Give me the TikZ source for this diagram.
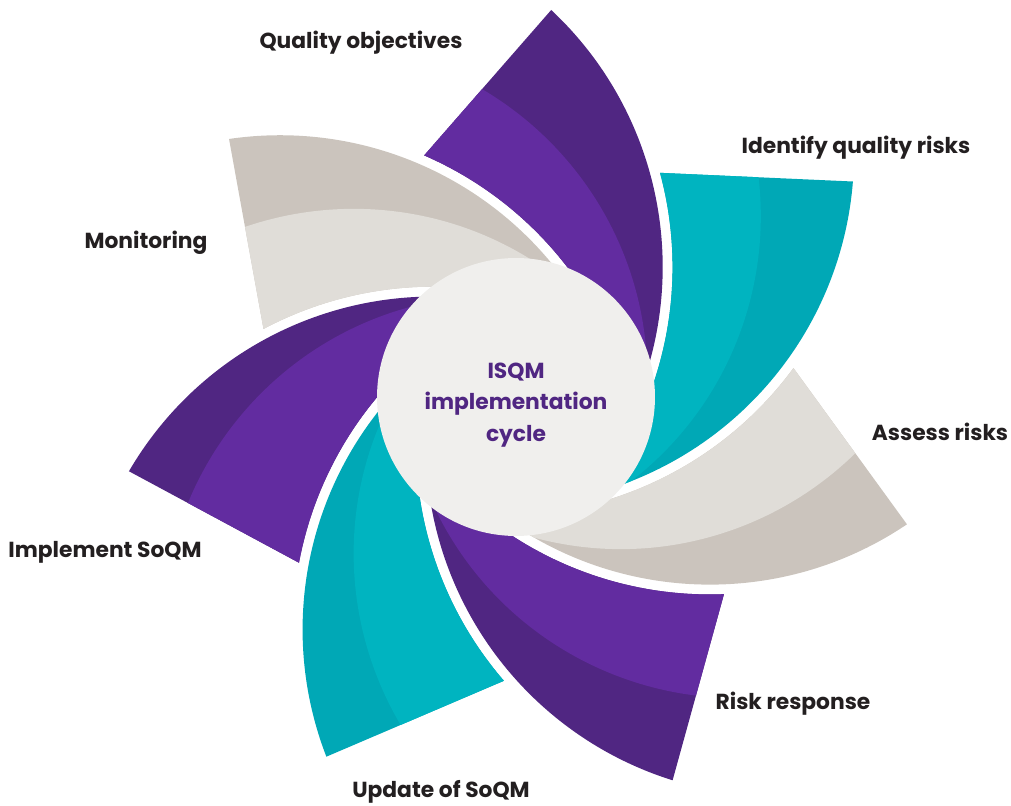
\documentclass[tikz,border=0pt]{standalone}
\usepackage{fontspec}
\setmainfont{Poppins}
\usepackage{tikz}
\usetikzlibrary{calc}

\definecolor{violetdark}{RGB}{80, 38, 130}
\definecolor{violetlight}{RGB}{98, 44, 160}
\definecolor{tealdark}{RGB}{0, 168, 182}
\definecolor{teallight}{RGB}{0, 180, 192}
\definecolor{stonedark}{RGB}{203, 196, 189}
\definecolor{stonelight}{RGB}{224, 221, 216}
\definecolor{hubfill}{RGB}{240, 239, 237}
\definecolor{ink}{RGB}{35, 31, 32}

\tikzstyle{phase} = [text=ink, inner sep=0pt, anchor=base, font=\bfseries\fontsize{12.4}{15}\selectfont]
\tikzstyle{hub} = [circle, fill=hubfill, inner sep=0pt, minimum size=5.56cm]
\tikzstyle{hubtitle} = [text=violetdark, inner sep=0pt, align=center, font=\bfseries\fontsize{12.4}{17.9}\selectfont]

\begin{document}
\begin{tikzpicture}[x=0.02cm, y=0.02cm]
\useasboundingbox (0,0) rectangle (1011,805);

% shutter blades =============================
% each blade: convex arc, concave arc (next blade's edge pushed out), straight rim
% \tw turns the light/dark split about the point where it meets the hub
\foreach \k/\outer/\inner/\tw in {0/violetdark/violetlight/0.6, 1/tealdark/teallight/-1.5,
    2/stonedark/stonelight/-2.8, 3/violetdark/violetlight/-2.8, 4/tealdark/teallight/-4.2,
    5/violetdark/violetlight/-6.9, 6/stonedark/stonelight/-2.5}{
  \begin{scope}[shift={(524,396)}, rotate=-\k*360/7]
    \clip ($(-213.3,142)+(46.9:352)$) arc[start angle=46.9, end angle=-23.6, radius=352]
      arc[start angle=12.7, end angle=66.55, radius=362] -- cycle;
    \fill[\outer] (-450,-450) rectangle (450,450);
    \fill[\inner, rotate around={\tw:(123,40)}] (-211.7,34.5) circle[radius=335];
  \end{scope}
}

% hub =============================
\node[hub] (hub) at (516,408) {};
\node[hubtitle] (title) at (516,400) {ISQM\\implementation\\cycle};

% phase labels
\node[phase] (objectives) at (361,756) {Quality objectives};
\node[phase] (identify) at (856,651) {Identify quality risks};
\node[phase] (assess) at (940,364) {Assess risks};
\node[phase] (response) at (793,95) {Risk response};
\node[phase] (update) at (441,8) {Update of SoQM};
\node[phase] (implement) at (105,247) {Implement SoQM};
\node[phase] (monitoring) at (146,556) {Monitoring};

\end{tikzpicture}
\end{document}
